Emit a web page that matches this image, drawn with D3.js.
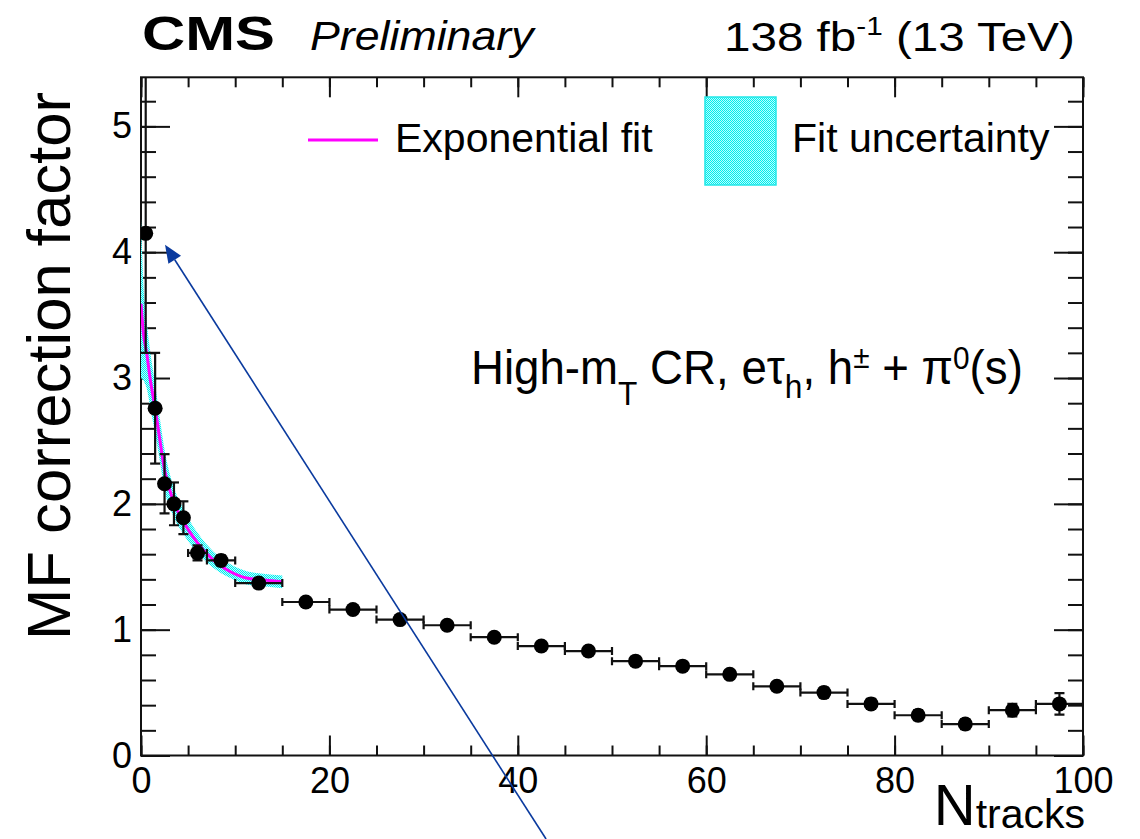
<!DOCTYPE html>
<html>
<head>
<meta charset="utf-8">
<script src="https://cdn.jsdelivr.net/npm/d3@7"></script>
<style>
  body { margin: 0; background: #fff; }
  svg { display: block; }
  text { font-family: "Liberation Sans", Arial, Helvetica, sans-serif; }
</style>
</head>
<body>
<svg id="chart" width="1140" height="839"></svg>
<script>
// bins in N_tracks
const binLo = [0, 1, 2, 3, 4, 5, 7, 10, 15, 20, 25, 30, 35, 40, 45, 50, 55, 60, 65, 70, 75, 80, 85, 90, 95];
const binHi = [1, 2, 3, 4, 5, 7, 10, 15, 20, 25, 30, 35, 40, 45, 50, 55, 60, 65, 70, 75, 80, 85, 90, 95, 100];
const mfValues = [4.15, 2.76, 2.16, 2.00, 1.89, 1.61, 1.55, 1.37, 1.22, 1.16, 1.08, 1.035, 0.94, 0.87,
                  0.83, 0.75, 0.71, 0.645, 0.55, 0.50, 0.41, 0.32, 0.25, 0.36, 0.41];
const errUp   = [1.40, 0.44, 0.235, 0.17, 0.13, 0.06, 0.04, 0.03, 0.03, 0.03, 0.03, 0.03, 0.03, 0.03,
                 0.03, 0.03, 0.03, 0.03, 0.03, 0.04, 0.04, 0.04, 0.04, 0.05, 0.085];
const errDown = [0.95, 0.44, 0.235, 0.17, 0.13, 0.06, 0.04, 0.03, 0.03, 0.03, 0.03, 0.03, 0.03, 0.03,
                 0.03, 0.03, 0.03, 0.03, 0.03, 0.04, 0.04, 0.04, 0.04, 0.05, 0.085];

// exponential fit curve and its uncertainty band
const fitX   = [0, 0.25, 0.6, 1, 1.5, 2, 2.5, 3.4, 4.5, 6, 7.7, 9.5, 11.2, 13, 15];
const fitY   = [3.59, 3.36, 3.20, 2.98, 2.76, 2.51, 2.27, 2.03, 1.86, 1.69, 1.55, 1.46, 1.41, 1.395, 1.38];
const bandUp = [4.27, 3.75, 3.45, 3.20, 2.95, 2.68, 2.43, 2.15, 1.96, 1.77, 1.62, 1.52, 1.465, 1.445, 1.43];
const bandLo = [3.00, 2.98, 2.92, 2.76, 2.56, 2.34, 2.11, 1.91, 1.76, 1.61, 1.49, 1.41, 1.36, 1.345, 1.33];

const xTicks = [0, 20, 40, 60, 80, 100];
const xMinorTicks = [0, 5, 10, 15, 20, 25, 30, 35, 40, 45, 50, 55, 60, 65, 70, 75, 80, 85, 90, 95, 100];
const yTicks = [0, 1, 2, 3, 4, 5];
const yMinorTicks = [0, 0.2, 0.4, 0.6, 0.8, 1, 1.2, 1.4, 1.6, 1.8, 2, 2.2, 2.4, 2.6, 2.8, 3, 3.2, 3.4,
                     3.6, 3.8, 4, 4.2, 4.4, 4.6, 4.8, 5, 5.2];

// annotation arrow (data coords): tail -> tip
const arrowTail = [43.0, -0.664];
const arrowTip = [2.55, 4.06];

const svg = d3.select('#chart');
const W = 1140, H = 839;
const x = d3.scaleLinear().domain([0, 100]).range([141, 1083]);
const y = d3.scaleLinear().domain([0, 5.39]).range([755.5, 77.3]);
const x0 = x.range()[0], x1 = x.range()[1], yb = y.range()[0], yt = y.range()[1];

svg.append('rect').attr('width', W).attr('height', H).attr('fill', '#fff');

const defs = svg.append('defs');
defs.append('clipPath').attr('id', 'plotclip')
  .append('rect').attr('x', x0).attr('y', yt).attr('width', x1 - x0).attr('height', yb - yt);
const pat = defs.append('pattern').attr('id', 'cyandots')
  .attr('width', 2).attr('height', 2).attr('patternUnits', 'userSpaceOnUse');
pat.append('rect').attr('width', 2).attr('height', 2).attr('fill', '#b8ffff');
pat.append('rect').attr('x', 0).attr('y', 0).attr('width', 1).attr('height', 1).attr('fill', '#00ecec');
pat.append('rect').attr('x', 1).attr('y', 1).attr('width', 1).attr('height', 1).attr('fill', '#00ecec');

// axes with inward ticks (ROOT style)
const axisStyle = (g) => {
  g.select('.domain').remove();
  g.selectAll('line').attr('stroke', '#111').attr('stroke-width', 2);
  g.selectAll('text').attr('font-size', 36).attr('fill', '#000')
    .attr('font-family', '"Liberation Sans", Arial, sans-serif');
};

svg.append('g').attr('transform', `translate(0,${yb})`)
  .call(d3.axisBottom(x).tickValues(xMinorTicks).tickSize(-10).tickFormat(''))
  .call(axisStyle);
svg.append('g').attr('transform', `translate(0,${yb})`)
  .call(d3.axisBottom(x).tickValues(xTicks).tickSize(-20).tickPadding(12).tickFormat(d3.format('d')))
  .call(axisStyle);
svg.append('g').attr('transform', `translate(0,${yt})`)
  .call(d3.axisTop(x).tickValues(xMinorTicks).tickSize(-10).tickFormat(''))
  .call(axisStyle);
svg.append('g').attr('transform', `translate(0,${yt})`)
  .call(d3.axisTop(x).tickValues(xTicks).tickSize(-20).tickFormat(''))
  .call(axisStyle);

svg.append('g').attr('transform', `translate(${x0},0)`)
  .call(d3.axisLeft(y).tickValues(yMinorTicks).tickSize(-15).tickFormat(''))
  .call(axisStyle);
svg.append('g').attr('transform', `translate(${x0},0)`)
  .call(d3.axisLeft(y).tickValues(yTicks).tickSize(-29).tickPadding(9).tickFormat(d3.format('d')))
  .call(axisStyle);
svg.append('g').attr('transform', `translate(${x1},0)`)
  .call(d3.axisRight(y).tickValues(yMinorTicks).tickSize(-15).tickFormat(''))
  .call(axisStyle);
svg.append('g').attr('transform', `translate(${x1},0)`)
  .call(d3.axisRight(y).tickValues(yTicks).tickSize(-29).tickFormat(''))
  .call(axisStyle);

// frame
svg.append('rect').attr('x', x0).attr('y', yt).attr('width', x1 - x0).attr('height', yb - yt)
  .attr('fill', 'none').attr('stroke', '#111').attr('stroke-width', 2);

const plot = svg.append('g').attr('clip-path', 'url(#plotclip)');

// fit uncertainty band
const band = fitX.map((d, i) => ({ x: d, lo: bandLo[i], hi: bandUp[i] }));
plot.append('path')
  .attr('d', d3.area().x(d => x(d.x)).y0(d => y(d.lo)).y1(d => y(d.hi)).curve(d3.curveMonotoneX)(band))
  .attr('fill', 'url(#cyandots)');

// exponential fit
const fit = fitX.map((d, i) => ({ x: d, y: fitY[i] }));
plot.append('path')
  .attr('d', d3.line().x(d => x(d.x)).y(d => y(d.y)).curve(d3.curveMonotoneX)(fit))
  .attr('fill', 'none').attr('stroke', '#ff00ff').attr('stroke-width', 3);

// data points with error bars
const pts = mfValues.map((v, i) => ({
  lo: binLo[i], hi: binHi[i], c: (binLo[i] + binHi[i]) / 2, v, eu: errUp[i], ed: errDown[i],
}));
const eb = plot.append('g').attr('stroke', '#111').attr('stroke-width', 2.2);
pts.forEach((p) => {
  const cx = x(p.c), cy = y(p.v);
  eb.append('line').attr('x1', x(p.lo)).attr('x2', x(p.hi)).attr('y1', cy).attr('y2', cy);
  eb.append('line').attr('x1', x(p.lo)).attr('x2', x(p.lo)).attr('y1', cy - 4).attr('y2', cy + 4);
  eb.append('line').attr('x1', x(p.hi)).attr('x2', x(p.hi)).attr('y1', cy - 4).attr('y2', cy + 4);
  eb.append('line').attr('x1', cx).attr('x2', cx).attr('y1', y(p.v + p.eu)).attr('y2', y(p.v - p.ed));
  eb.append('line').attr('x1', cx - 5).attr('x2', cx + 5).attr('y1', y(p.v + p.eu)).attr('y2', y(p.v + p.eu));
  eb.append('line').attr('x1', cx - 5).attr('x2', cx + 5).attr('y1', y(p.v - p.ed)).attr('y2', y(p.v - p.ed));
});
plot.append('g').selectAll('circle').data(pts).join('circle')
  .attr('cx', d => x(d.c)).attr('cy', d => y(d.v)).attr('r', 7.5).attr('fill', '#000');

// arrow annotation
const ax1 = x(arrowTail[0]), ay1 = y(arrowTail[1]);
const ax2 = x(arrowTip[0]), ay2 = y(arrowTip[1]);
const len = Math.hypot(ax2 - ax1, ay2 - ay1);
const ux = (ax2 - ax1) / len, uy = (ay2 - ay1) / len;
const headL = 18, headW = 7.5;
const bx = ax2 - ux * headL, by = ay2 - uy * headL;
svg.append('line').attr('x1', ax1).attr('y1', ay1).attr('x2', bx).attr('y2', by)
  .attr('stroke', '#0a3a9e').attr('stroke-width', 1.6);
svg.append('polygon')
  .attr('points', [[ax2, ay2], [bx - uy * headW, by + ux * headW], [bx + uy * headW, by - ux * headW]]
    .map(p => p.join(',')).join(' '))
  .attr('fill', '#0a3a9e');

// helper: stretch a text group horizontally to a target width
function fitWidth(g, width) {
  const w = g.node().getBBox().width;
  const t = g.attr('data-t');
  g.attr('transform', `${t} scale(${width / w},1)`);
}

// header
const cms = svg.append('g').attr('data-t', 'translate(142,50)');
cms.append('text').attr('font-size', 48).attr('font-weight', 'bold').text('CMS');
fitWidth(cms, 133);
const prel = svg.append('g').attr('data-t', 'translate(310,50)');
prel.append('text').attr('font-size', 40).attr('font-style', 'italic').text('Preliminary');
fitWidth(prel, 227);
const lumi = svg.append('g').attr('data-t', 'translate(724,51)');
const lt = lumi.append('text').attr('font-size', 40);
lt.append('tspan').text('138 fb');
lt.append('tspan').attr('font-size', 25).attr('dy', -16).text('-1');
lt.append('tspan').attr('dy', 16).text(' (13 TeV)');
fitWidth(lumi, 351);

// legend
svg.append('line').attr('x1', 308).attr('x2', 378).attr('y1', 140).attr('y2', 140)
  .attr('stroke', '#ff00ff').attr('stroke-width', 3);
svg.append('text').attr('x', 395).attr('y', 152).attr('font-size', 41).text('Exponential fit');
svg.append('rect').attr('x', 705).attr('y', 97).attr('width', 71).attr('height', 88)
  .attr('fill', 'url(#cyandots)').attr('stroke', '#20e8e8').attr('stroke-width', 1.5);
svg.append('text').attr('x', 792).attr('y', 152).attr('font-size', 41).text('Fit uncertainty');

// region label
const reg = svg.append('g').attr('data-t', 'translate(471,384)');
const rt = reg.append('text').attr('font-size', 49);
rt.append('tspan').text('High-m');
rt.append('tspan').attr('font-size', 34).attr('dy', 21).text('T');
rt.append('tspan').attr('dy', -21).text(' CR, e\u03c4');
rt.append('tspan').attr('font-size', 34).attr('dy', 14).text('h');
rt.append('tspan').attr('dy', -14).text(', h');
rt.append('tspan').attr('font-size', 32).attr('dy', -16).text('\u00b1');
rt.append('tspan').attr('dy', 16).text(' + \u03c0');
rt.append('tspan').attr('font-size', 32).attr('dy', -15).text('0');
rt.append('tspan').attr('dy', 15).text('(s)');
fitWidth(reg, 552);

// axis titles
svg.append('text')
  .attr('transform', 'translate(70,92) rotate(-90)')
  .attr('text-anchor', 'end').attr('font-size', 62)
  .attr('textLength', 548).attr('lengthAdjust', 'spacingAndGlyphs')
  .text('MF correction factor');

const xt = svg.append('text').attr('x', 1085).attr('y', 825).attr('text-anchor', 'end');
xt.append('tspan').attr('font-size', 58).text('N');
xt.append('tspan').attr('font-size', 41).attr('dy', 3).text('tracks');
</script>
</body>
</html>
